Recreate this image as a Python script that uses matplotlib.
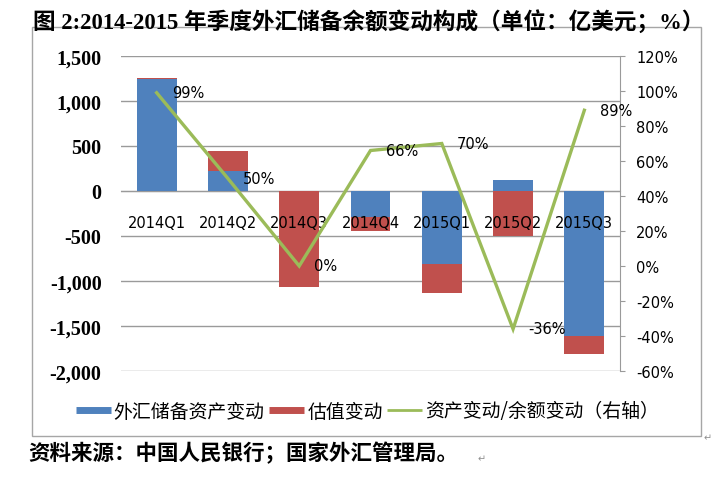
import matplotlib
matplotlib.use("Agg")
import matplotlib.pyplot as plt
import numpy as np
from matplotlib.ticker import FuncFormatter, FixedLocator
from matplotlib.lines import Line2D
from matplotlib.patches import Rectangle

categories = ["2014Q1", "2014Q2", "2014Q3", "2014Q4", "2015Q1", "2015Q2", "2015Q3"]
asset_change = [1250, 222, -5, -290, -811, 122, -1611]      # 外汇储备资产变动
valuation_change = [10, 218, -1062, -154, -322, -497, -197]  # 估值变动
ratio = [99, 50, 0, 66, 70, -36, 89]                          # 资产变动/余额变动(%)
left_ticks = [-2000, -1500, -1000, -500, 0, 500, 1000, 1500]
right_ticks = [-60, -40, -20, 0, 20, 40, 60, 80, 100, 120]

title = "图 2:2014-2015 年季度外汇储备余额变动构成（单位：亿美元；%）"
source = "资料来源：中国人民银行；国家外汇管理局。"
legend_labels = ["外汇储备资产变动", "估值变动", "资产变动/余额变动（右轴）"]

BLUE = "#4F81BD"
RED = "#C0504D"
GREEN = "#9BBB59"
GRID = "#9a9a9a"

W, H = 713, 481
fig = plt.figure(figsize=(W / 100, H / 100), dpi=100)
fig.patch.set_facecolor("white")

# outer chart frame
fig.patches.append(Rectangle((32 / W, 1 - 437 / H), 669 / W, 409 / H,
                             transform=fig.transFigure, fill=False,
                             edgecolor="#a6a6a6", linewidth=1.0, zorder=0))

ax = fig.add_axes([121 / W, 1 - 372 / H, 499 / W, 315 / H])
x = np.arange(len(categories))
bw = 0.56

asset = np.array(asset_change, dtype=float)
val = np.array(valuation_change, dtype=float)
red_bottom = np.where(np.sign(asset) == np.sign(val), asset, 0.0)

ax.bar(x, asset, bw, color=BLUE, zorder=1)
ax.bar(x, val, bw, bottom=red_bottom, color=RED, zorder=1)

ax.set_xlim(-0.5, len(categories) - 0.5)
ax.set_ylim(-2000, 1500)
ax.yaxis.set_major_locator(FixedLocator(left_ticks))
ax.yaxis.set_major_formatter(FuncFormatter(lambda v, p: f"{v:,.0f}"))
ax.set_axisbelow(True)
ax.yaxis.grid(True, color=GRID, linewidth=1.0)
for s in ["top", "right", "left"]:
    ax.spines[s].set_visible(False)
ax.spines["bottom"].set_position(("data", 0))
ax.spines["bottom"].set_color(GRID)
ax.spines["bottom"].set_zorder(0.6)
ax.tick_params(axis="y", length=0, pad=14)
for lab in ax.get_yticklabels():
    lab.set_fontfamily("Liberation Serif")
    lab.set_fontweight("bold")
    lab.set_fontsize(14.5)
ax.set_xticks(x)
ax.set_xticklabels(categories, fontsize=10.5, fontfamily="DejaVu Sans")
ax.tick_params(axis="x", length=0, pad=17)
ax.xaxis.set_zorder(2.5)

ax2 = ax.twinx()
ax2.plot(x, ratio, color=GREEN, linewidth=2.4, solid_joinstyle="miter", zorder=3)
ax2.set_ylim(-60, 120)
ax2.yaxis.set_major_locator(FixedLocator(right_ticks))
ax2.yaxis.set_major_formatter(FuncFormatter(lambda v, p: f"{v:.0f}%"))
for s in ["top", "left", "bottom"]:
    ax2.spines[s].set_visible(False)
ax2.spines["right"].set_color(GRID)
ax2.tick_params(axis="y", direction="out", length=3.6, color=GRID, pad=8,
                labelsize=10.5)
for xi, r in zip(x, ratio):
    ax2.annotate(f"{r}%", (xi, r), xytext=(11, 0), textcoords="offset points",
                 ha="left", va="center", fontsize=10.5, fontfamily="DejaVu Sans")

# title and source
fig.text(33 / W, 1 - 22 / H, title, ha="left", va="center", fontsize=16.3,
         fontweight="bold", family=["Liberation Serif", "Noto Sans CJK SC"])
fig.text(28 / W, 1 - 453 / H, source, ha="left", va="center", fontsize=15.5,
         fontweight="bold", family=["Noto Sans CJK SC"])

# legend
handles = [Line2D([], [], color=BLUE, linewidth=5, solid_capstyle="butt"),
           Line2D([], [], color=RED, linewidth=5, solid_capstyle="butt"),
           Line2D([], [], color=GREEN, linewidth=2, solid_capstyle="butt")]
fig.legend(handles, legend_labels, loc="center", bbox_to_anchor=(367.5 / W, 1 - 412 / H),
           ncol=3, frameon=False, handlelength=1.85, handletextpad=0.15,
           columnspacing=0.25, prop={"family": ["Noto Sans CJK SC"], "size": 13.6})

# paragraph marks from the source document
fig.text(704 / W, 1 - 438 / H, "↵", fontsize=7, color="#909090", ha="left", va="center")
fig.text(478 / W, 1 - 459 / H, "↵", fontsize=7, color="#909090", ha="left", va="center")

fig.savefig("out.png", dpi=100)
